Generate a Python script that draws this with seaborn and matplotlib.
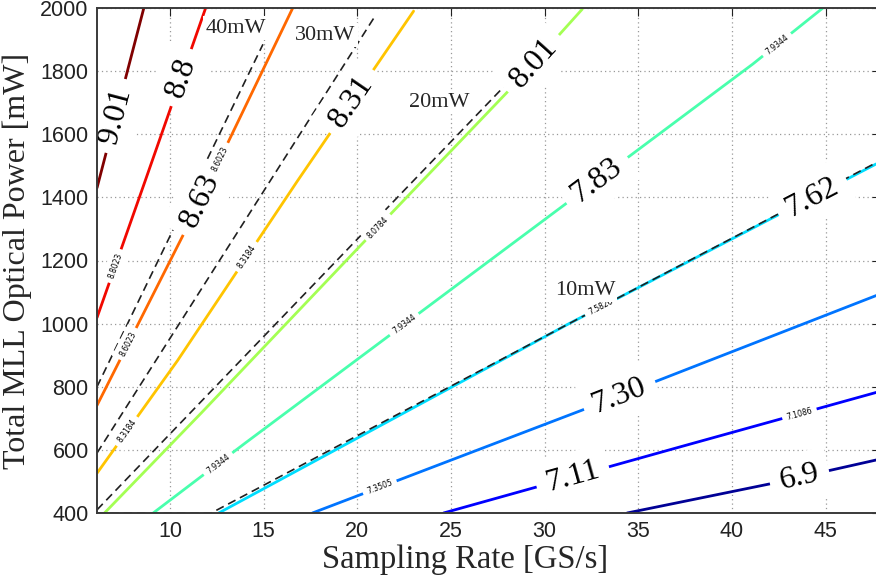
import numpy as np
import pandas as pd
import matplotlib
matplotlib.use("Agg")
import matplotlib.pyplot as plt
import seaborn as sns

# ENOB-style contour levels (large printed values and fine contour values)
levels = ["6.9", "7.11", "7.30", "7.62", "7.83", "8.01", "8.31", "8.63", "8.8", "9.01"]
fine_values = ["6.9", "7.1086", "7.3505", "7.5826", "7.9344", "8.0784", "8.3184", "8.6023", "8.8023", "9.01"]

# contour paths: sampling rate [GS/s] and total MLL optical power [mW]
contour_rate = [
    [34.4, 42.0, 47.7],
    [24.6, 37.2, 47.7],
    [17.6, 32.0, 47.7],
    [12.6, 31.3, 47.7],
    [9.1, 14.0, 31.2, 41.1, 44.85],
    [6.5, 11.7, 20.0, 28.3, 32.0],
    [6.1, 10.4, 16.8, 23.0],
    [6.1, 11.0, 16.55],
    [6.1, 8.67, 11.9],
    [6.1, 8.6],
]
contour_power = [
    [400, 492, 568],
    [400, 609, 782],
    [400, 726, 1089],
    [400, 1000, 1506],
    [400, 621, 1383, 1822, 2000],
    [400, 719, 1237, 1752, 1996],
    [526, 883, 1452, 1990],
    [741, 1316, 2000],
    [1019, 1452, 2000],
    [1430, 2000],
]

# constant power-per-channel lines
mw_names = ["10mW", "20mW", "30mW", "40mW"]
mw_rate = [
    [6.1, 12.2, 31.3, 47.7],
    [6.1, 28.1],
    [6.1, 20.94],
    [6.1, 14.96],
]
mw_power = [
    [400, 400, 1000, 1510],
    [410, 1768],
    [590, 1974],
    [800, 1885],
]

x_ticks = [10, 15, 20, 25, 30, 35, 40, 45]
y_ticks = [400, 600, 800, 1000, 1200, 1400, 1600, 1800, 2000]

# ---- styling ----
sns.set_theme(style="white")
serif = ["Liberation Serif", "DejaVu Serif"]
narrow = ["Liberation Sans Narrow", "Liberation Sans", "DejaVu Sans"]
plt.rcParams["font.family"] = serif

jet = plt.get_cmap("jet")
jet_pos = [0.02, 0.12, 0.24, 0.34, 0.44, 0.55, 0.70, 0.80, 0.90, 1.0]
palette = {lv: jet(p) for lv, p in zip(levels, jet_pos)}

fig = plt.figure(figsize=(8.76, 5.81), dpi=100)
ax = fig.add_axes([97 / 876, 1 - 513 / 581, 783 / 876, 505 / 581])
ax.set_xlim(6.1, 47.9)
ax.set_ylim(400, 2000)

contours = pd.DataFrame(
    [(lv, r, p) for lv, rs, ps in zip(levels, contour_rate, contour_power) for r, p in zip(rs, ps)],
    columns=["level", "rate", "power"],
)
sns.lineplot(data=contours, x="rate", y="power", hue="level", palette=palette,
             estimator=None, sort=False, legend=False, lw=2.0, ax=ax, zorder=3)

dashed = pd.DataFrame(
    [(nm, r, p) for nm, rs, ps in zip(mw_names, mw_rate, mw_power) for r, p in zip(rs, ps)],
    columns=["channel", "rate", "power"],
)
sns.lineplot(data=dashed, x="rate", y="power", units="channel", estimator=None, sort=False,
             color="#202020", lw=1.2, linestyle=(0, (5, 3)), legend=False, ax=ax, zorder=4)

ax.set_xticks(x_ticks)
ax.set_yticks(y_ticks)
ax.grid(True, linestyle=(0, (1, 2.5)), color="0.6", lw=0.9)
ax.set_axisbelow(True)
ax.tick_params(direction="in", length=6, width=0.8, top=True, right=True,
               labelsize=15.5, colors="#222222", pad=6)
for lab in ax.get_xticklabels() + ax.get_yticklabels():
    lab.set_family(narrow)
for side in ax.spines.values():
    side.set_color("#3a3a3a")
    side.set_linewidth(1.4)
    side.set_zorder(8)

ax.set_xlabel("Sampling Rate [GS/s]", fontsize=23.5, family=serif)
ax.xaxis.set_label_coords(0.47, -0.062, transform=ax.transAxes)
ax.xaxis.label.set_va("top")
ax.set_ylabel("Total MLL Optical Power [mW]", fontsize=23, family=serif, labelpad=6)


def label_on(idx, rate, text, size, family, pad, rates, powers):
    p = np.interp(rate, rates[idx], powers[idx])
    a = ax.transData.transform([(rate - 0.3, np.interp(rate - 0.3, rates[idx], powers[idx])),
                                (rate + 0.3, np.interp(rate + 0.3, rates[idx], powers[idx]))])
    ang = np.degrees(np.arctan2(a[1, 1] - a[0, 1], a[1, 0] - a[0, 0]))
    ax.text(rate, p, text, rotation=ang, rotation_mode="anchor", ha="center", va="center",
            fontsize=size, family=family, color="black", zorder=6, clip_on=True,
            bbox=dict(boxstyle=f"square,pad={pad}", fc="white", ec="none"))


# large printed values
big_at = [43.6, 31.5, 34.0, 44.3, 32.8, 29.4, 19.7, 11.6, 10.6, 7.1]
for i, r in enumerate(big_at):
    label_on(i, r, levels[i], 23, serif, 0.32, contour_rate, contour_power)

# fine contour values
fine_at = [(1, 43.6), (2, 21.2), (3, 33.0), (4, 12.56), (4, 22.5), (4, 42.4),
           (5, 21.1), (6, 7.7), (6, 14.1), (7, 7.76), (7, 12.67), (8, 7.07)]
for i, r in fine_at:
    label_on(i, r, fine_values[i], 5.5, ["DejaVu Sans"], 0.6, contour_rate, contour_power)

# channel power annotations
mw_text_at = [(32.15, 1105), (24.35, 1702), (18.3, 1914), (13.5, 1936)]
for nm, (r, p) in zip(mw_names, mw_text_at):
    ax.text(r, p, nm, fontsize=16, family=serif, ha="center", va="center", zorder=7,
            bbox=dict(boxstyle="square,pad=0.1", fc="white", ec="none"))

fig.savefig("out.png", dpi=100)
